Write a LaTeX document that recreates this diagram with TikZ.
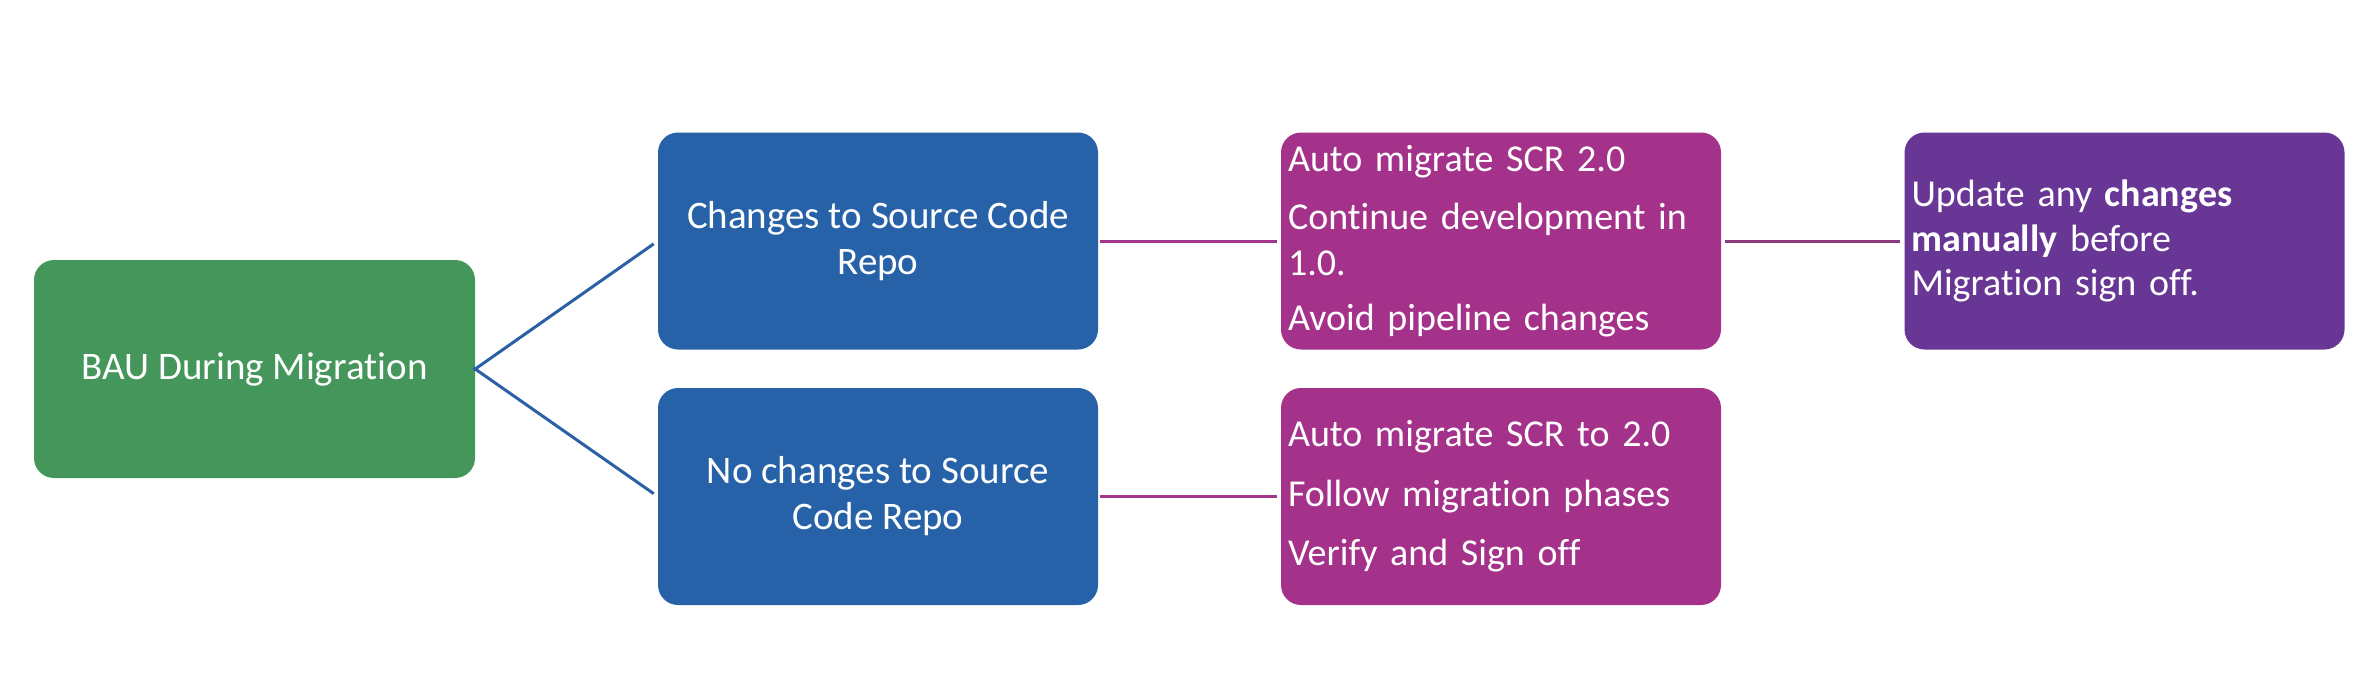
\documentclass[tikz,border=0pt]{standalone}
\usepackage{fontspec}
\setmainfont{Carlito}[Ligatures=NoCommon]
\definecolor{bgreen}{HTML}{44965A}
\definecolor{bblue}{HTML}{2762A9}
\definecolor{bmag}{HTML}{A4318A}
\definecolor{bpurp}{HTML}{683795}
\definecolor{lblue}{HTML}{2C5FA6}
\definecolor{lmag}{HTML}{A3358B}
\definecolor{lplum}{HTML}{8B3A7A}
\begin{document}
\begin{tikzpicture}[x=1pt,y=-1pt,
  box/.style={rounded corners=20pt, inner sep=0pt, text=white,
    font=\fontsize{38}{46}\selectfont,
    minimum width=440pt, minimum height=217pt},
  leftbox/.style={box, inner xsep=7pt, text width=426pt, align=left},
  centerbox/.style={box, align=center, font=\fontsize{39}{46}\selectfont},
  conn/.style={line width=3pt}]
\useasboundingbox (0,0) rectangle (2374,686);
\node[centerbox, fill=bgreen, minimum width=441pt, minimum height=218pt] (g) at (254.5,369) {BAU During Migration};
\node[centerbox, fill=bblue] (b1) at (878,241) {Changes to Source Code\\Repo};
\node[centerbox, fill=bblue] (b2) at (878,496.5) {No changes to Source\\Code Repo};
\node[leftbox, fill=bmag] (m1) at (1501,241) {Auto migrate SCR 2.0\\[12pt]Continue development in\\1.0.\\[9pt]Avoid pipeline changes};
\node[leftbox, fill=bmag] (m2) at (1501,496.5) {Auto migrate SCR to 2.0\\[14pt]Follow migration phases\\[13pt]Verify and Sign off};
\node[leftbox, fill=bpurp] (p) at (2124.5,241) {Update any \textbf{changes}\\[-1pt]\textbf{manually} before\\[-2pt]Migration sign off.};
\draw[conn, lblue, shorten <=-2pt, shorten >=5pt] (g.east) -- (b1.west);
\draw[conn, lblue, shorten <=-2pt, shorten >=5pt] (g.east) -- (b2.west);
\draw[conn, lmag, shorten <=2pt, shorten >=4pt] (b1.east) -- (m1.west);
\draw[conn, lmag, shorten <=2pt, shorten >=4pt] (b2.east) -- (m2.west);
\draw[conn, lplum, shorten <=4pt, shorten >=4pt] (m1.east) -- (p.west);
\end{tikzpicture}
\end{document}
